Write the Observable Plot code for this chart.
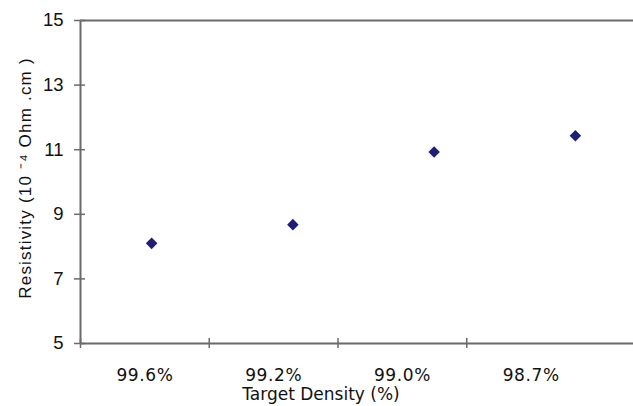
<!DOCTYPE html>
<html>
<head>
<meta charset="utf-8">
<script src="https://cdn.jsdelivr.net/npm/d3@7"></script>
<script src="https://cdn.jsdelivr.net/npm/@observablehq/plot@0.6"></script>
<style>
  html, body { margin: 0; padding: 0; background: #fff; }
  #chart { position: relative; width: 633px; height: 406px; }
  #chart svg { position: absolute; left: 0; top: 0; background: transparent; }
</style>
</head>
<body>
<div id="chart"></div>
<script>
const categories = ["99.6%", "99.2%", "99.0%", "98.7%"];
const resistivity = [8.1, 8.68, 10.93, 11.43];
const yTicks = [5, 7, 9, 11, 13, 15];
const xTitle = "Target Density (%)";
const yTitle = "Resistivity (10 \u207B\u2074 Ohm .cm )";

const n = categories.length;
const idx = d3.range(n);
const points = idx.map(i => ({pos: i + 0.5, value: resistivity[i], cat: categories[i]}));
const axisColor = "#6b6b6b";

const common = {
  width: 633,
  height: 406,
  marginLeft: 80,
  marginRight: 0,
  marginTop: 20,
  marginBottom: 63,
  style: {background: "transparent", overflow: "visible"}
};

const base = Plot.plot({
  ...common,
  x: {type: "linear", domain: [0, n], range: [80, 595], axis: null},
  y: {domain: [5, 15], axis: null},
  marks: [
    Plot.axisY({ticks: yTicks, tickSize: 0, tickPadding: 17, label: null,
      fontSize: 18.5, fontFamily: "Liberation Sans, Arial, sans-serif", fill: "#111"}),
    Plot.ruleY([15], {stroke: axisColor, strokeWidth: 2}),
    Plot.ruleY([5], {stroke: axisColor, strokeWidth: 2}),
    Plot.ruleX([0], {stroke: axisColor, strokeWidth: 2}),
    Plot.ruleY(yTicks, {x1: 0, x2: 0, insetLeft: -6, insetRight: -5, stroke: axisColor, strokeWidth: 1.5}),
    Plot.ruleX(idx, {y1: 5, y2: 5, insetTop: -5, insetBottom: -5, stroke: axisColor, strokeWidth: 1.5}),
    Plot.text(points, {x: "pos", y: 5, text: "cat", dy: 32, fontSize: 17,
      fontFamily: "DejaVu Sans, sans-serif", fill: "#111", lineAnchor: "middle"}),
    Plot.text([xTitle], {x: n / 2, y: 5, text: d => d, dy: 51, dx: -17, fontSize: 17,
      fontFamily: "DejaVu Sans, sans-serif", fill: "#111", lineAnchor: "middle"}),
    Plot.text([yTitle], {frameAnchor: "left", text: d => d, rotate: -90, dx: -55, dy: -4,
      textAnchor: "middle", fontSize: 17, fontFamily: "Liberation Sans, Arial, sans-serif",
      fill: "#111", lineAnchor: "middle"})
  ]
});

// letter spacing for wide-set texts
base.querySelectorAll("text").forEach(t => {
  if (t.textContent === yTitle) t.style.letterSpacing = "1.2px";
  if (categories.includes(t.textContent)) t.style.letterSpacing = "0.6px";
});

const overlay = Plot.plot({
  ...common,
  x: {type: "linear", domain: [0, n], range: [80.5, 645.5], axis: null},
  y: {domain: [5, 15], axis: null},
  marks: [
    Plot.dot(points, {x: "pos", y: "value", symbol: "diamond2", r: 5.2, fill: "#1e1e78", stroke: "none"})
  ]
});

const chart = document.getElementById("chart");
chart.appendChild(base);
chart.appendChild(overlay);
</script>
</body>
</html>
